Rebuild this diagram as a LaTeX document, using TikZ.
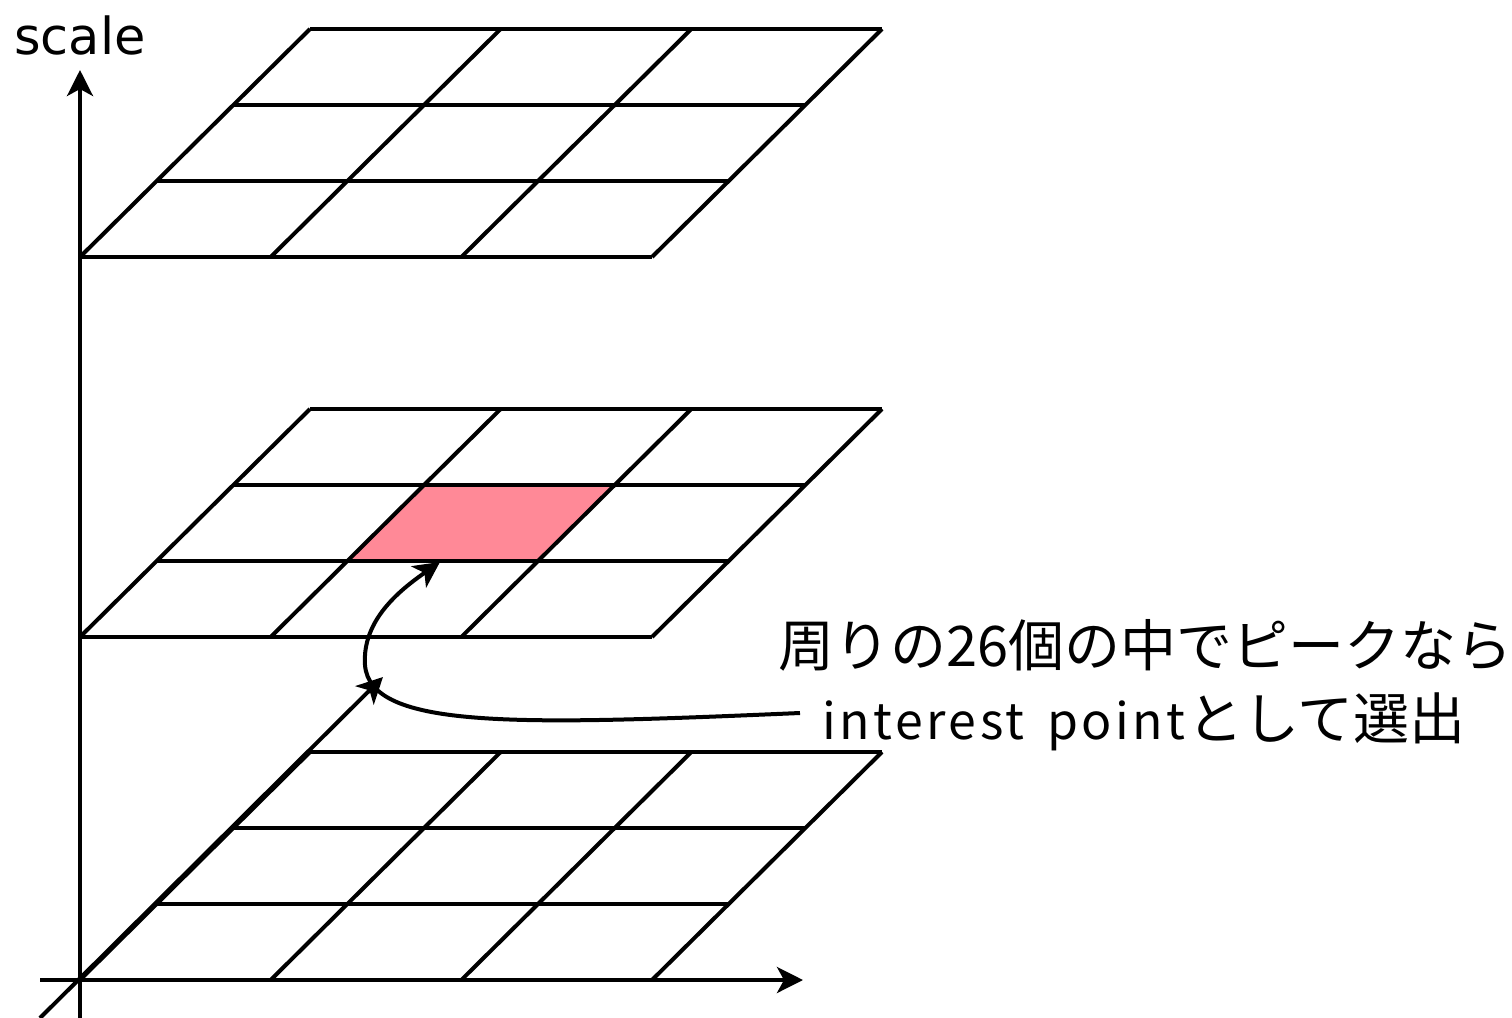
\documentclass[tikz,border=0pt]{standalone}
\usepackage{fontspec}
\setmainfont{DejaVu Sans}
\newfontfamily\jpfont{Noto Sans CJK JP}
\newfontfamily\latinsp[LetterSpace=7]{Noto Sans CJK JP}
\usetikzlibrary{arrows.meta}
\definecolor{peak}{RGB}{255,137,151}
\tikzset{
  gridline/.style={line width=2pt, black},
  axis/.style={line width=2pt, -{Stealth[length=13pt, width=13pt, inset=3.5pt]}},
  lbl/.style={inner sep=0pt, font=\fontsize{25.5}{30}\selectfont},
  jplbl/.style={inner sep=0pt, anchor=west, font=\jpfont\fontsize{28}{34}\selectfont}
}
\newcommand{\layergrid}[1]{%
  \foreach \i in {0,1,2,3} {
    \draw[gridline] ({80+\i*76.667},{#1-\i*76}) -- ({651.9+\i*76.667},{#1-\i*76});
    \draw[gridline] ({80+\i*190.67},{#1}) -- ({310+\i*190.67},{#1-228});
  }%
}
\begin{document}
\begin{tikzpicture}[x=0.5pt, y=-0.5pt]
\useasboundingbox (0,0) rectangle (1512,1018);
% highlighted cell
\fill[peak] (347.3,561) -- (538,561) -- (614.7,485) -- (424,485) -- cycle;
% grids
\layergrid{980}
\layergrid{637}
\layergrid{257}
% axes
\coordinate (vs) at (80,1018);
\coordinate (ve) at (80,70);
\coordinate (hs) at (40,980);
\coordinate (he) at (803,980);
\coordinate (ds) at (40,1018);
\coordinate (de) at (383,677);
\draw[axis] (vs) -- (ve);
\draw[axis] (hs) -- (he);
\draw[axis] (ds) -- (de);
% labels
\node[lbl] (scale) at (80,35) {scale};
\node[jplbl] (t1) at (778,645) {周りの26個の中でピークなら};
\node[jplbl] (t2) at (822,722) {{\latinsp\fontsize{25}{30}\selectfont interest\hspace{0.45em}point}\hspace{1pt}として選出};
% curved pointer
\coordinate (cs) at (800,713);
\coordinate (cm) at (365,665);
\coordinate (ce) at (440,562);
\draw[axis] (cs) .. controls (520,725) and (370,730) .. (cm)
  .. controls (362,620) and (400,590) .. (ce);
\end{tikzpicture}
\end{document}
